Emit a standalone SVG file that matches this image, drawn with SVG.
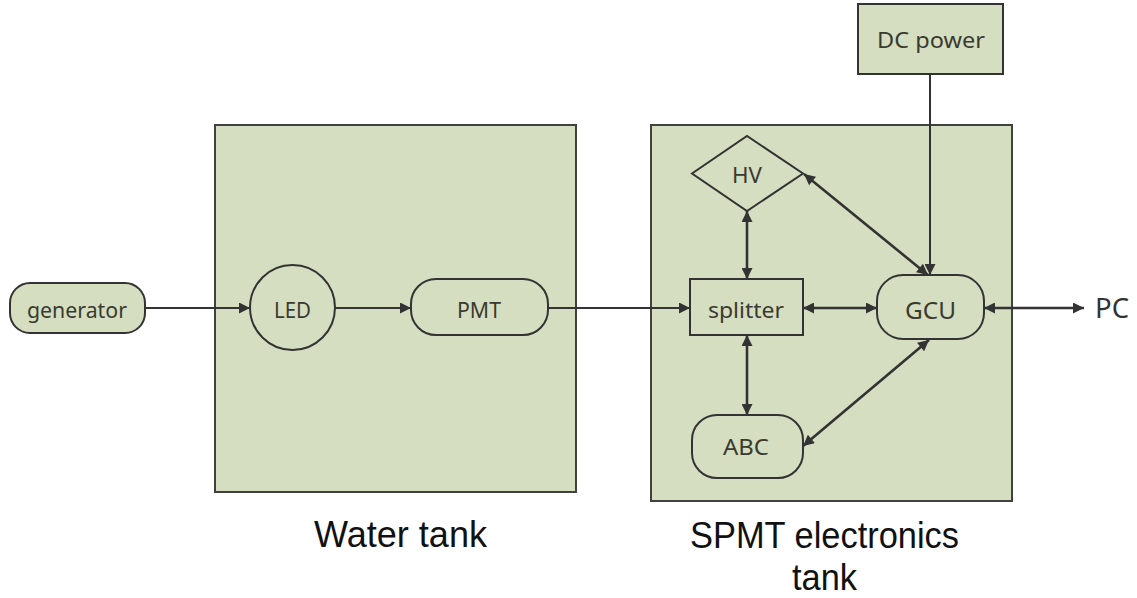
<svg xmlns="http://www.w3.org/2000/svg" width="1137" height="598" viewBox="0 0 1137 598">
<style>
.tank{fill:#d5dec0;stroke:#404040;stroke-width:2}
.node{fill:#d5dec0;stroke:#333;stroke-width:2}
.t{font-family:"Noto Sans","Open Sans",sans-serif;font-size:21px;fill:#3a3a30;text-anchor:middle;dominant-baseline:central}
.lbl{font-family:"Liberation Sans","Noto Sans",sans-serif;font-size:37px;fill:#111;text-anchor:middle}
.c{fill:none;stroke:#333;stroke-width:2}
.c2{fill:none;stroke:#333;stroke-width:2.6}
</style>
<defs>
<marker id="ah" viewBox="0 0 10 10" refX="10" refY="5" markerWidth="15" markerHeight="11" markerUnits="userSpaceOnUse" orient="auto-start-reverse"><path d="M0,0 L10,5 L0,10 z" fill="#333"/></marker>
</defs>
<g id="water-tank"><rect class="tank" x="215" y="125" width="361" height="367"/></g>
<g id="spmt-tank"><rect class="tank" x="651" y="125" width="361" height="376"/></g>
<g id="generator"><rect class="node" x="10" y="283" width="135" height="50" rx="20"/><text class="t" x="77" y="310" textLength="100" lengthAdjust="spacingAndGlyphs">generator</text></g>
<g id="led"><circle class="node" cx="292.5" cy="307.5" r="42.5"/><text class="t" x="292.5" y="310" textLength="37" lengthAdjust="spacingAndGlyphs">LED</text></g>
<g id="pmt"><rect class="node" x="411" y="279" width="137" height="56" rx="25"/><text class="t" x="479" y="310" textLength="44" lengthAdjust="spacingAndGlyphs">PMT</text></g>
<g id="splitter"><rect class="node" x="690" y="279" width="113" height="56"/><text class="t" x="746" y="310" textLength="76" lengthAdjust="spacingAndGlyphs">splitter</text></g>
<g id="hv"><polygon class="node" points="692,173.5 747,136 803,173.5 747,211"/><text class="t" x="747" y="175" textLength="30" lengthAdjust="spacingAndGlyphs">HV</text></g>
<g id="gcu"><rect class="node" x="877" y="275" width="107" height="64" rx="26"/><text class="t" x="930.5" y="309" style="font-size:24px" textLength="51" lengthAdjust="spacingAndGlyphs">GCU</text></g>
<g id="abc"><rect class="node" x="692" y="415" width="111" height="63" rx="25"/><text class="t" x="746" y="447" textLength="46" lengthAdjust="spacingAndGlyphs">ABC</text></g>
<g id="dc"><rect class="node" x="858" y="4" width="145" height="70"/><text class="t" x="931" y="40" textLength="108" lengthAdjust="spacingAndGlyphs">DC power</text></g>
<g id="pc"><text x="1095" y="318" textLength="34" lengthAdjust="spacingAndGlyphs" style="font-family:'Noto Sans','Open Sans',sans-serif;font-size:27px;fill:#333">PC</text></g>
<g id="connectors">
<line class="c" x1="145" y1="308" x2="250" y2="308" marker-end="url(#ah)"/>
<line class="c" x1="335" y1="308" x2="411" y2="308" marker-end="url(#ah)"/>
<line class="c" x1="548" y1="308" x2="690" y2="308" marker-end="url(#ah)"/>
<line class="c" x1="930" y1="74" x2="930" y2="275" marker-end="url(#ah)"/>
<line class="c2" x1="747" y1="211" x2="747" y2="279" marker-start="url(#ah)" marker-end="url(#ah)"/>
<line class="c2" x1="747" y1="335" x2="747" y2="415" marker-start="url(#ah)" marker-end="url(#ah)"/>
<line class="c2" x1="803" y1="308" x2="877" y2="308" marker-start="url(#ah)" marker-end="url(#ah)"/>
<line class="c2" x1="804" y1="174" x2="928" y2="275" marker-start="url(#ah)" marker-end="url(#ah)"/>
<line class="c2" x1="803" y1="446" x2="929" y2="340" marker-start="url(#ah)" marker-end="url(#ah)"/>
<line class="c2" x1="984" y1="308" x2="1084" y2="308" marker-start="url(#ah)" marker-end="url(#ah)"/>
</g>
<g id="labels">
<text class="lbl" x="400.5" y="547" textLength="173" lengthAdjust="spacingAndGlyphs">Water tank</text>
<text class="lbl" x="824.5" y="548" textLength="269" lengthAdjust="spacingAndGlyphs">SPMT electronics</text>
<text class="lbl" x="824.5" y="590" textLength="65" lengthAdjust="spacingAndGlyphs">tank</text>
</g>
</svg>
